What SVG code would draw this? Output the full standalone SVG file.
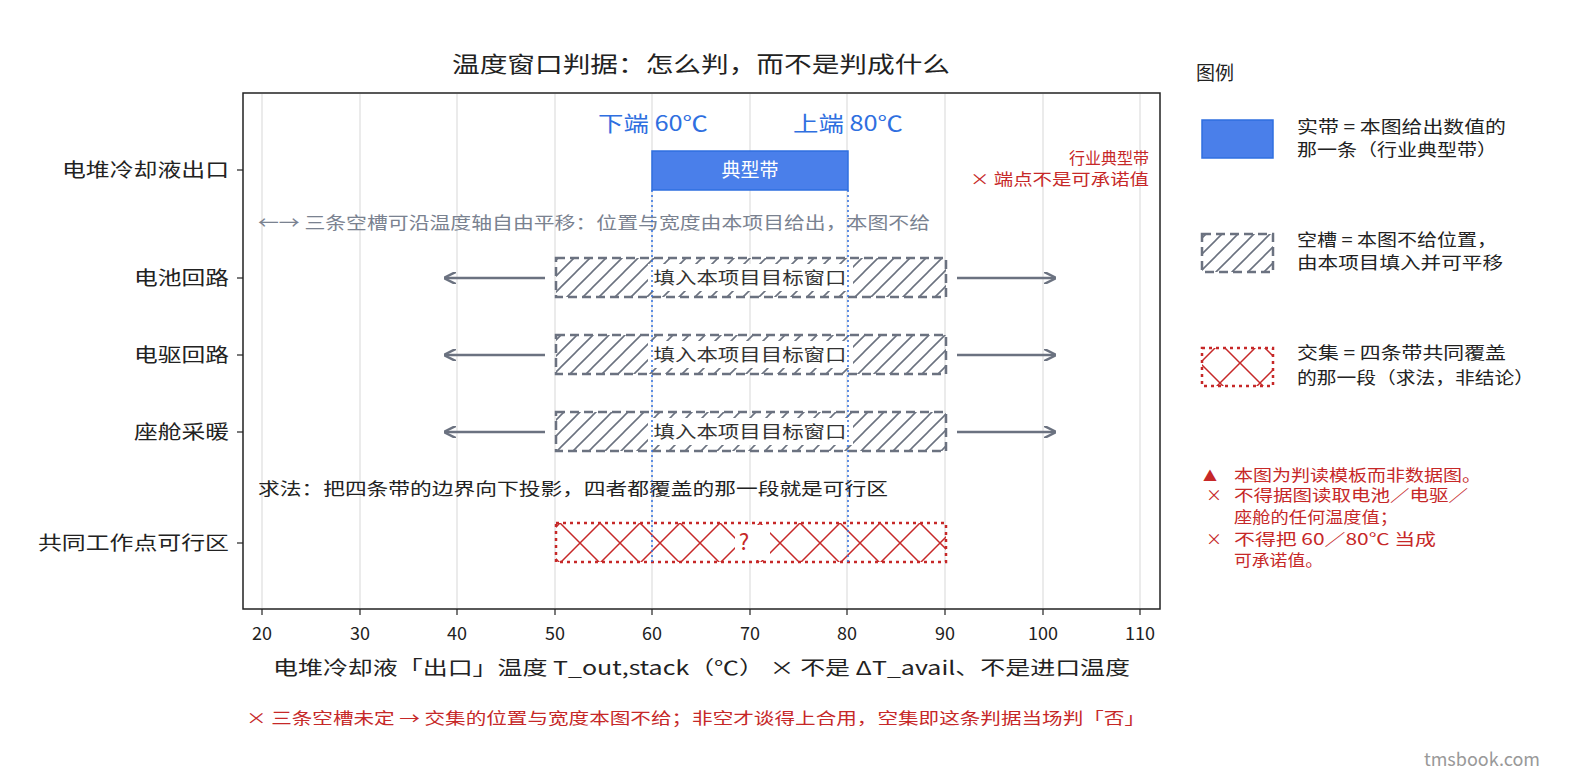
<svg xmlns="http://www.w3.org/2000/svg" width="1575" height="780" viewBox="0 0 1575 780">
<style>
text{font-family:"Noto Sans CJK SC","Noto Sans",sans-serif;}
.tk{font-size:18px;fill:#222}
.yl{font-size:19px;fill:#222;text-anchor:end}
.grid{stroke:#e5e5e5;stroke-width:1.5}
.slot{fill:url(#hatch);stroke:#6b7280;stroke-width:2.5;stroke-dasharray:9 5}
.arr{stroke:#6b7280;stroke-width:2.5;fill:none;marker-end:url(#ah)}
.lbl{font-size:17px;fill:#333;text-anchor:middle}
.red{fill:#c62828}
.blue{fill:#2f6fe0}
.lg{font-size:17px;fill:#222}
</style>
<defs>
<pattern id="hatch" patternUnits="userSpaceOnUse" width="16" height="16">
<path d="M-4,4 L4,-4 M0,16 L16,0 M12,20 L20,12" stroke="#6b7280" stroke-width="1.6"/>
</pattern>
<pattern id="cross" patternUnits="userSpaceOnUse" width="40" height="40" y="3" x="0">
<path d="M0,0 L40,40 M40,0 L0,40 M-20,20 L0,40 M20,-20 L60,20" stroke="#c62828" stroke-width="1.5"/>
</pattern>
<marker id="ah" viewBox="0 0 10 10" refX="9" refY="5" markerWidth="5" markerHeight="5" orient="auto"><path d="M0,0 L10,5 L0,10" fill="none" stroke="#6b7280" stroke-width="2"/></marker>
</defs>
<rect width="1575" height="780" fill="#fff"/>
<text x="452" y="72" font-size="22" fill="#222" textLength="498" lengthAdjust="spacingAndGlyphs">温度窗口判据：怎么判，而不是判成什么</text>
<g id="grid">
<line class="grid" x1="262" y1="94" x2="262" y2="608"/><line class="grid" x1="360" y1="94" x2="360" y2="608"/><line class="grid" x1="457" y1="94" x2="457" y2="608"/><line class="grid" x1="555" y1="94" x2="555" y2="608"/><line class="grid" x1="652" y1="94" x2="652" y2="608"/><line class="grid" x1="750" y1="94" x2="750" y2="608"/><line class="grid" x1="847" y1="94" x2="847" y2="608"/><line class="grid" x1="945" y1="94" x2="945" y2="608"/><line class="grid" x1="1043" y1="94" x2="1043" y2="608"/><line class="grid" x1="1140" y1="94" x2="1140" y2="608"/>
</g>
<rect x="243" y="93" width="917" height="516" fill="none" stroke="#222" stroke-width="1.5"/>
<g id="ticks" stroke="#222" stroke-width="1.2">
<line x1="262" y1="609" x2="262" y2="615"/><line x1="360" y1="609" x2="360" y2="615"/><line x1="457" y1="609" x2="457" y2="615"/><line x1="555" y1="609" x2="555" y2="615"/><line x1="652" y1="609" x2="652" y2="615"/><line x1="750" y1="609" x2="750" y2="615"/><line x1="847" y1="609" x2="847" y2="615"/><line x1="945" y1="609" x2="945" y2="615"/><line x1="1043" y1="609" x2="1043" y2="615"/><line x1="1140" y1="609" x2="1140" y2="615"/>
<line x1="237" y1="170" x2="243" y2="170"/><line x1="237" y1="278" x2="243" y2="278"/><line x1="237" y1="355" x2="243" y2="355"/><line x1="237" y1="432" x2="243" y2="432"/><line x1="237" y1="543" x2="243" y2="543"/>
</g>
<g text-anchor="middle">
<text class="tk" x="262" y="640">20</text><text class="tk" x="360" y="640">30</text><text class="tk" x="457" y="640">40</text><text class="tk" x="555" y="640">50</text><text class="tk" x="652" y="640">60</text><text class="tk" x="750" y="640">70</text><text class="tk" x="847" y="640">80</text><text class="tk" x="945" y="640">90</text><text class="tk" x="1043" y="640">100</text><text class="tk" x="1140" y="640">110</text>
</g>
<text class="yl" x="229" y="177" textLength="167" lengthAdjust="spacingAndGlyphs">电堆冷却液出口</text>
<text class="yl" x="229" y="285" textLength="95" lengthAdjust="spacingAndGlyphs">电池回路</text>
<text class="yl" x="229" y="362" textLength="95" lengthAdjust="spacingAndGlyphs">电驱回路</text>
<text class="yl" x="229" y="439" textLength="95" lengthAdjust="spacingAndGlyphs">座舱采暖</text>
<text class="yl" x="229" y="550" textLength="191" lengthAdjust="spacingAndGlyphs">共同工作点可行区</text>
<text x="273" y="675" font-size="19" fill="#222" textLength="857" lengthAdjust="spacingAndGlyphs">电堆冷却液「出口」温度 T_out,stack（℃）   × 不是 ΔT_avail、不是进口温度</text>
<text x="246" y="724" font-size="16" class="red" textLength="899" lengthAdjust="spacingAndGlyphs">× 三条空槽未定 → 交集的位置与宽度本图不给；非空才谈得上合用，空集即这条判据当场判「否」</text>
<text x="1540" y="766" font-size="18" fill="#999" text-anchor="end">tmsbook.com</text>

<g id="typical">
<rect x="652" y="151" width="196" height="39" fill="#4a7fea" stroke="#2f6fe0" stroke-width="1.5"/>
<text x="750" y="177" font-size="19" fill="#fff" text-anchor="middle">典型带</text>
<text x="598" y="131" font-size="21" class="blue" textLength="110" lengthAdjust="spacingAndGlyphs">下端 60℃</text>
<text x="793" y="131" font-size="21" class="blue" textLength="110" lengthAdjust="spacingAndGlyphs">上端 80℃</text>
<text x="1149" y="164" font-size="16" class="red" text-anchor="end">行业典型带</text>
<text x="970" y="185" font-size="16" class="red" textLength="179" lengthAdjust="spacingAndGlyphs">× 端点不是可承诺值</text>
</g>
<text x="258" y="229" font-size="17" fill="#7a8290" textLength="672" lengthAdjust="spacingAndGlyphs">←→ 三条空槽可沿温度轴自由平移：位置与宽度由本项目给出，本图不给</text>
<text x="258" y="495" font-size="17" fill="#222" textLength="630" lengthAdjust="spacingAndGlyphs">求法：把四条带的边界向下投影，四者都覆盖的那一段就是可行区</text>

<g id="slot-battery">
<rect class="slot" x="556" y="258" width="390" height="39"/>
<rect x="648" y="264" width="205" height="27" fill="#fff"/>
<text class="lbl" x="750" y="284" textLength="193" lengthAdjust="spacingAndGlyphs">填入本项目目标窗口</text>
</g>
<g id="slot-drive">
<rect class="slot" x="556" y="335" width="390" height="39"/>
<rect x="648" y="341" width="205" height="27" fill="#fff"/>
<text class="lbl" x="750" y="361" textLength="193" lengthAdjust="spacingAndGlyphs">填入本项目目标窗口</text>
</g>
<g id="slot-cabin">
<rect class="slot" x="556" y="412" width="390" height="39"/>
<rect x="648" y="418" width="205" height="27" fill="#fff"/>
<text class="lbl" x="750" y="438" textLength="193" lengthAdjust="spacingAndGlyphs">填入本项目目标窗口</text>
</g>
<g id="intersection">
<rect x="556" y="523" width="390" height="39" fill="url(#cross)" stroke="#c62828" stroke-width="2.5" stroke-dasharray="3 4"/>
<rect x="735" y="525" width="35" height="35" fill="#fff"/>
<text x="744" y="550" font-size="22" class="red" text-anchor="middle">?</text>
</g>
<g id="connectors">
<line class="arr" x1="545" y1="278" x2="445" y2="278"/><line class="arr" x1="957" y1="278" x2="1055" y2="278"/>
<line class="arr" x1="545" y1="355" x2="445" y2="355"/><line class="arr" x1="957" y1="355" x2="1055" y2="355"/>
<line class="arr" x1="545" y1="432" x2="445" y2="432"/><line class="arr" x1="957" y1="432" x2="1055" y2="432"/>
<line x1="652" y1="190" x2="652" y2="562" stroke="#2f6fe0" stroke-width="1.5" stroke-dasharray="2 3"/>
<line x1="848" y1="190" x2="848" y2="562" stroke="#2f6fe0" stroke-width="1.5" stroke-dasharray="2 3"/>
</g>
<g id="legend">
<text x="1196" y="80" font-size="19" fill="#222">图例</text>
<rect x="1202" y="120" width="71" height="38" fill="#4a7fea" stroke="#2f6fe0" stroke-width="1.5"/>
<text class="lg" x="1297" y="133" textLength="209" lengthAdjust="spacingAndGlyphs">实带 = 本图给出数值的</text>
<text class="lg" x="1297" y="156" textLength="200" lengthAdjust="spacingAndGlyphs">那一条（行业典型带）</text>
<rect x="1202" y="234" width="71" height="38" class="slot"/>
<text class="lg" x="1297" y="246" textLength="200" lengthAdjust="spacingAndGlyphs">空槽 = 本图不给位置，</text>
<text class="lg" x="1297" y="269" textLength="206" lengthAdjust="spacingAndGlyphs">由本项目填入并可平移</text>
<rect x="1202" y="348" width="71" height="38" fill="url(#cross)" stroke="#c62828" stroke-width="2.5" stroke-dasharray="3 4"/>
<text class="lg" x="1297" y="359" textLength="209" lengthAdjust="spacingAndGlyphs">交集 = 四条带共同覆盖</text>
<text class="lg" x="1297" y="384" textLength="237" lengthAdjust="spacingAndGlyphs">的那一段（求法，非结论）</text>
<g font-size="16" class="red">
<text x="1203" y="481" font-size="14">▲</text>
<text x="1234" y="481" textLength="247" lengthAdjust="spacingAndGlyphs">本图为判读模板而非数据图。</text>
<text x="1206" y="501">×</text>
<text x="1234" y="501" textLength="234" lengthAdjust="spacingAndGlyphs">不得据图读取电池／电驱／</text>
<text x="1234" y="523" textLength="164" lengthAdjust="spacingAndGlyphs">座舱的任何温度值；</text>
<text x="1206" y="545">×</text>
<text x="1234" y="545" textLength="202" lengthAdjust="spacingAndGlyphs">不得把 60／80℃ 当成</text>
<text x="1234" y="566" textLength="89" lengthAdjust="spacingAndGlyphs">可承诺值。</text>
</g>
</g>
</svg>
